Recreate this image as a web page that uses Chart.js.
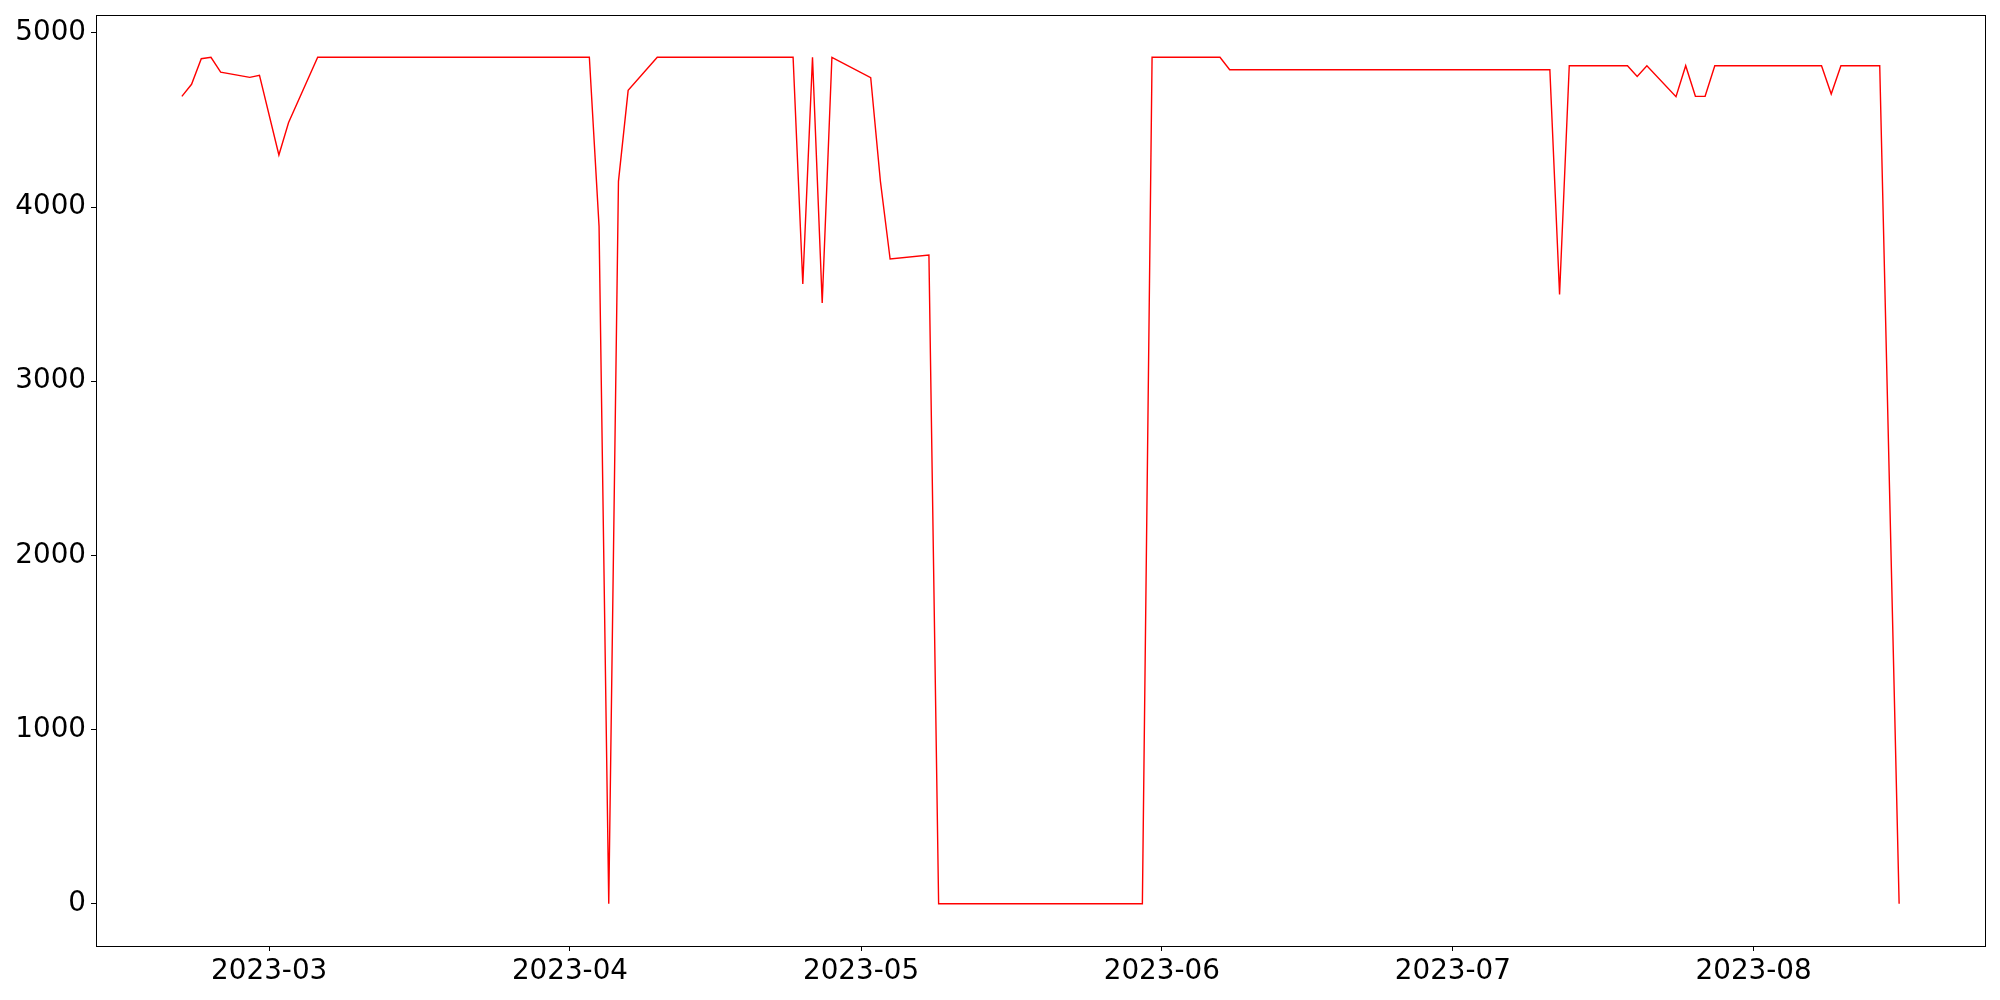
<!DOCTYPE html>
<html>
<head>
<meta charset="utf-8">
<script src="https://cdn.jsdelivr.net/npm/chart.js@4.4.0/dist/chart.umd.min.js"></script>
<style>
  html, body { margin: 0; padding: 0; background: #fff; }
  #wrap { width: 2000px; height: 1000px; }
</style>
</head>
<body>
<div id="wrap"><canvas id="chart" width="2000" height="1000"></canvas></div>
<script>
// trading days and values
const dates = [
  '2023-02-20', '2023-02-21', '2023-02-22', '2023-02-23', '2023-02-24',
  '2023-02-27', '2023-02-28', '2023-03-02', '2023-03-03', '2023-03-06',
  '2023-04-03', '2023-04-04', '2023-04-05', '2023-04-06', '2023-04-07',
  '2023-04-10', '2023-04-24', '2023-04-25', '2023-04-26', '2023-04-27',
  '2023-04-28', '2023-05-02', '2023-05-03', '2023-05-04', '2023-05-08',
  '2023-05-09', '2023-05-30', '2023-05-31', '2023-06-07', '2023-06-08',
  '2023-07-11', '2023-07-12', '2023-07-13', '2023-07-19', '2023-07-20',
  '2023-07-21', '2023-07-24', '2023-07-25', '2023-07-26', '2023-07-27',
  '2023-07-28', '2023-08-08', '2023-08-09', '2023-08-10', '2023-08-14',
  '2023-08-16'
];
const values = [
  4636, 4705, 4852, 4860, 4775,
  4745, 4756, 4299, 4486, 4860,
  4860, 3890, 0, 4148, 4670,
  4860, 4860, 3559, 4860, 3450,
  4860, 4743, 4148, 3702, 3725,
  0, 0, 4860, 4860, 4789,
  4789, 3498, 4812, 4812, 4750,
  4812, 4634, 4812, 4636, 4636,
  4812, 4812, 4649, 4812, 4812,
  0
];
const monthTicks = ['2023-03', '2023-04', '2023-05', '2023-06', '2023-07', '2023-08'];
const yTicks = [0, 1000, 2000, 3000, 4000, 5000];

const DAY = 86400000;
const toDay = (s) => {
  const p = s.split('-').map(Number);
  return Date.UTC(p[0], p[1] - 1, p[2] || 1) / DAY;
};

const points = dates.map((d, i) => ({ x: toDay(d), y: values[i] }));
const monthDays = monthTicks.map(toDay);

// matplotlib-style 5% margins
const xLo = points[0].x, xHi = points[points.length - 1].x;
const yLo = Math.min(...values), yHi = Math.max(...values);
const xPad = (xHi - xLo) * 0.05, yPad = (yHi - yLo) * 0.05;

const font = { family: 'DejaVu Sans', size: 27.8 };

const frame = {
  id: 'frame',
  afterDraw(chart) {
    const { ctx, chartArea: a } = chart;
    ctx.save();
    ctx.strokeStyle = '#000';
    ctx.lineWidth = 1;
    ctx.strokeRect(a.left + 0.5, a.top + 0.5, a.right - a.left, a.bottom - a.top);
    ctx.restore();
  }
};

new Chart(document.getElementById('chart').getContext('2d'), {
  type: 'line',
  data: {
    datasets: [{
      data: points,
      borderColor: 'red',
      borderWidth: 1.4,
      pointRadius: 0,
      tension: 0,
      fill: false
    }]
  },
  options: {
    responsive: false,
    animation: false,
    devicePixelRatio: 1,
    layout: { padding: { top: 15, right: 15, left: 0, bottom: 0 } },
    plugins: { legend: { display: false }, tooltip: { enabled: false } },
    scales: {
      x: {
        type: 'linear',
        min: xLo - xPad,
        max: xHi + xPad,
        afterBuildTicks: (s) => { s.ticks = monthDays.map((v) => ({ value: v })); },
        afterFit: (s) => { s.height = 54; s.paddingLeft = 0; s.paddingRight = 0; },
        ticks: {
          color: '#000',
          font,
          padding: 4,
          maxRotation: 0,
          autoSkip: false,
          callback: (v) => monthTicks[monthDays.indexOf(v)]
        },
        grid: { drawOnChartArea: false, drawTicks: true, tickLength: 5, color: '#000' },
        border: { display: true, color: '#000', width: 1 }
      },
      y: {
        min: yLo - yPad,
        max: yHi + yPad,
        afterBuildTicks: (s) => { s.ticks = yTicks.map((v) => ({ value: v })); },
        afterFit: (s) => { s.width = 96; s.paddingTop = 0; s.paddingBottom = 0; },
        ticks: { color: '#000', font, padding: 5, autoSkip: false, callback: (v) => String(v) },
        grid: { drawOnChartArea: false, drawTicks: true, tickLength: 5, color: '#000' },
        border: { display: true, color: '#000', width: 1 }
      }
    }
  },
  plugins: [frame]
});
</script>
</body>
</html>
